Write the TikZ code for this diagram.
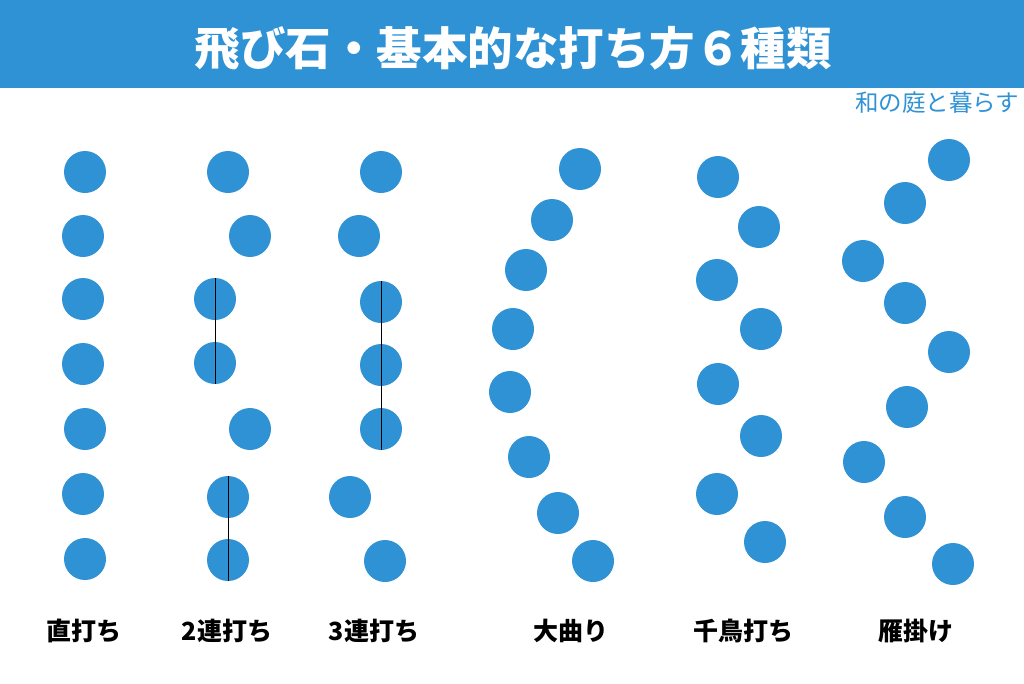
\documentclass[tikz,border=0pt]{standalone}
\usepackage{fontspec}
\setmainfont{Noto Sans CJK JP}
\usetikzlibrary{positioning}
\definecolor{stoneblue}{RGB}{47,146,213}
\tikzset{
  stone/.style={circle, fill=stoneblue, minimum size=42pt, inner sep=0pt},
  joint/.style={black, line width=0.9pt},
  caption/.style={font=\bfseries\fontsize{25}{25}\selectfont, text=black}
}

\begin{document}
\begin{tikzpicture}[x=1pt,y=-1pt]
\useasboundingbox (0,0) rectangle (1024,683);
% title bar
\fill[stoneblue] (0,0) rectangle (1024,88);
\node[text=white, font=\bfseries\fontsize{45.5}{45.5}\selectfont] (title) at (513,48) {飛び石・基本的な打ち方６種類};
\node[text=stoneblue, font=\fontsize{23.5}{23.5}\selectfont, anchor=east] (credit) at (1023,103) {和の庭と暮らす};

% 直打ち
\foreach \x/\y [count=\i] in {85/172,83/236,83/299,83/364,85/429,83/494,85/559}
  \node[stone] (a\i) at (\x,\y) {};
% 2連打ち
\foreach \x/\y [count=\i] in {228/172,250/236,215/299,215/363,250/429,228/497,228/560}
  \node[stone] (b\i) at (\x,\y) {};
% 3連打ち
\foreach \x/\y [count=\i] in {381/172,359/236,381/302,381/365,381/429,350/497,385/561}
  \node[stone] (c\i) at (\x,\y) {};
% 大曲り
\foreach \x/\y [count=\i] in {580/169,552/220,526/270,513/329,510/392,529/457,558/513,593/561}
  \node[stone] (d\i) at (\x,\y) {};
% 千鳥打ち
\foreach \x/\y [count=\i] in {718/177,759/227,717/280,761/329,718/384,761/436,717/494,765/542}
  \node[stone] (e\i) at (\x,\y) {};
% 雁掛け
\foreach \x/\y [count=\i] in {949/160,905/203,863/261,905/303,949/352,907/407,864/462,905/517,953/564}
  \node[stone] (f\i) at (\x,\y) {};

% joints
\draw[joint] (b3.north) -- (b4.south);
\draw[joint] (b6.north) -- (b7.south);
\draw[joint] (c3.north) -- (c5.south);

% captions
\node[caption] (la) at (84,631) {直打ち};
\node[caption] (lb) at (227,631) {2連打ち};
\node[caption] (lc) at (374,631) {3連打ち};
\node[caption] (ld) at (571,631) {大曲り};
\node[caption] (le) at (743,631) {千鳥打ち};
\node[caption] (lf) at (916,631) {雁掛け};
\end{tikzpicture}
\end{document}
